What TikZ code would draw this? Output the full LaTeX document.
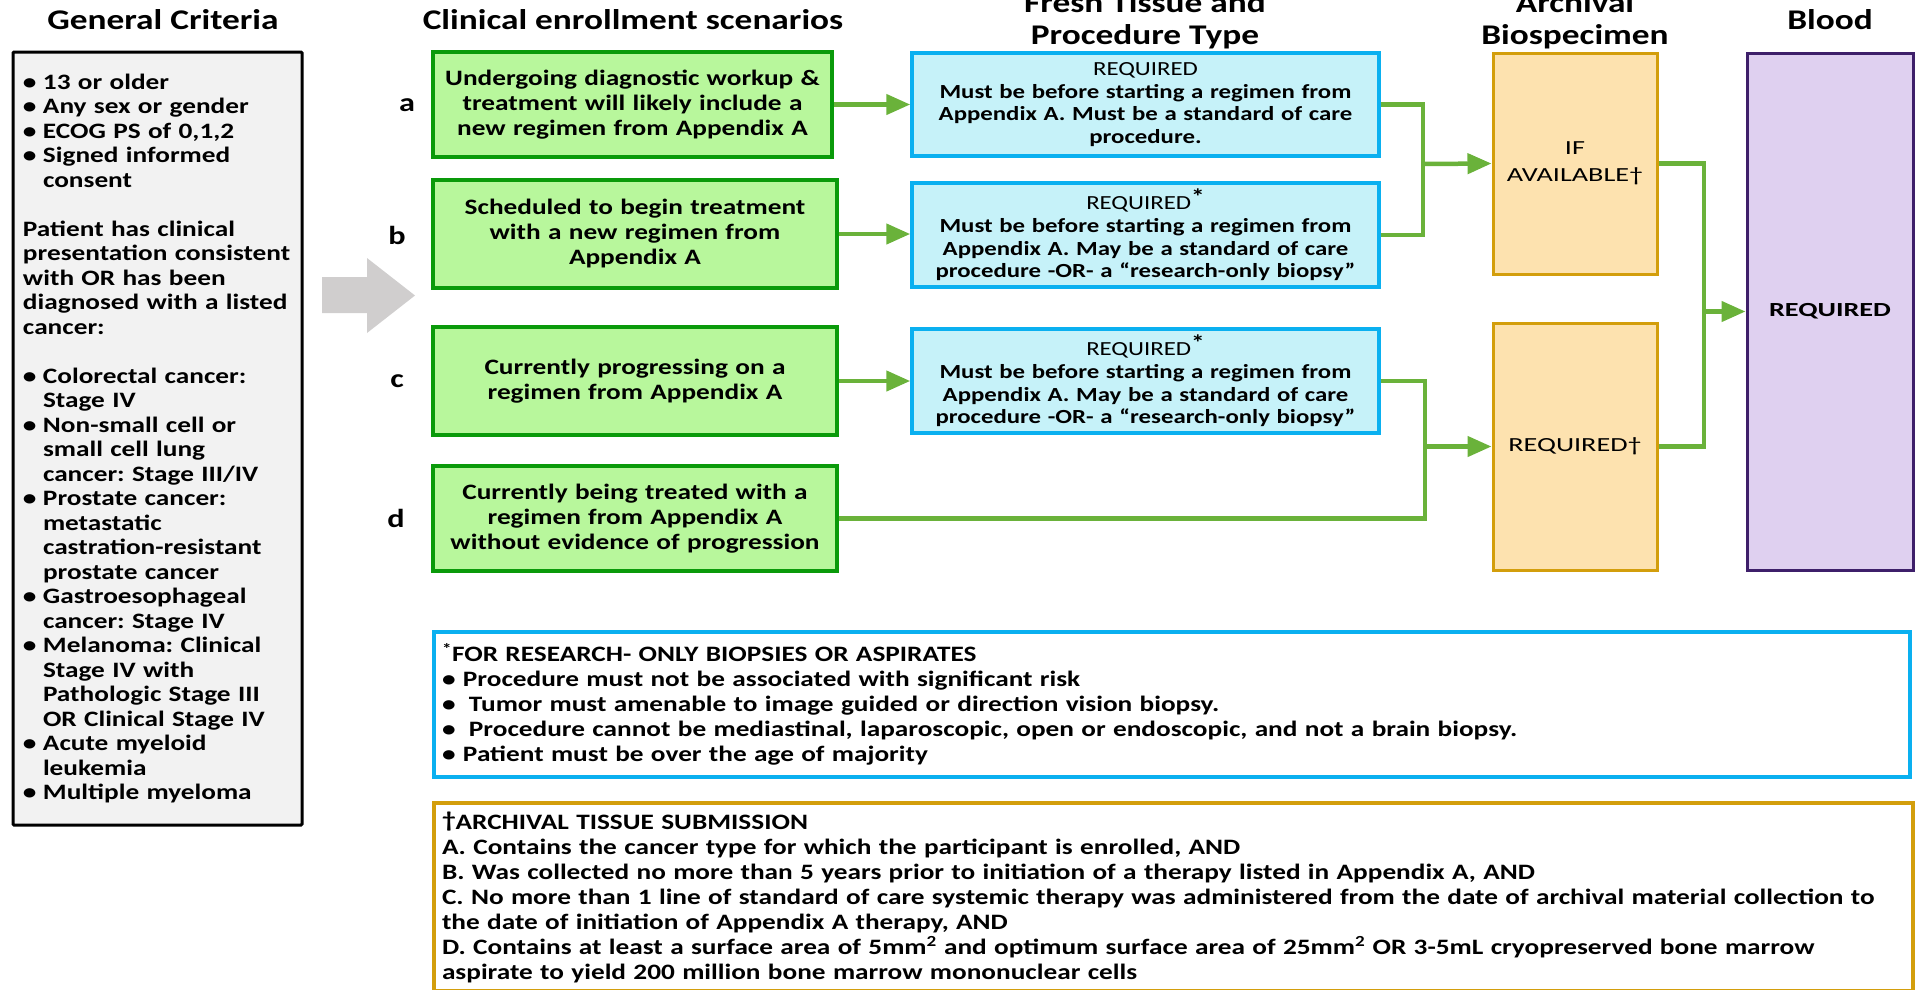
\documentclass[tikz,border=0pt]{standalone}
\usepackage{fontspec}
\setmainfont{Carlito}[FakeStretch=1.24]
\newfontfamily\widefont{Carlito}[FakeStretch=1.41]
\usetikzlibrary{arrows.meta,calc}
\newcommand{\headfont}{\bfseries\fontsize{28.5}{32}\selectfont}
\newcommand{\critfont}{\bfseries\fontsize{22}{24.5}\selectfont}
\newcommand{\scenfont}{\bfseries\fontsize{22}{25}\selectfont}
\newcommand{\tissuefont}{\bfseries\fontsize{20}{22.7}\selectfont}
\newcommand{\notefont}{\bfseries\fontsize{22}{25}\selectfont}
\newcommand{\archfont}{\widefont\fontsize{20}{27}\selectfont}
\newcommand{\tagfont}{\bfseries\fontsize{26}{30}\selectfont}
\newcommand{\critbullet}{\makebox[20pt][l]{\textbullet}}
\newcommand{\critindent}{\hspace*{20pt}}
\newcommand{\notebullet}[1][21pt]{\makebox[#1][l]{\textbullet}}
\newcommand{\bigstar}{\raisebox{5pt}{\fontsize{22}{22}\selectfont\bfseries *}}
\definecolor{critgray}{HTML}{F2F2F2}
\definecolor{pointergray}{HTML}{D0CECE}
\definecolor{scenline}{HTML}{0A9A0A}
\definecolor{scenfill}{HTML}{B8F79C}
\definecolor{tissueline}{HTML}{0AB0F0}
\definecolor{tissuefill}{HTML}{C6F2F9}
\definecolor{flowgreen}{HTML}{6AB23A}
\definecolor{archline}{HTML}{D39E0C}
\definecolor{archfill}{HTML}{FDE2AF}
\definecolor{bloodline}{HTML}{3E1F6A}
\definecolor{bloodfill}{HTML}{DFD0F0}
\tikzset{
  colHead/.style={font=\headfont, align=center, inner sep=0pt},
  rowTag/.style={font=\tagfont, inner sep=0pt},
  critBox/.style={draw=black, line width=3pt, fill=critgray, rounded corners=1pt, inner sep=0pt, text width=269pt, align=left, font=\critfont},
  scenBox/.style={draw=scenline, fill=scenfill, line width=3.5pt, inner sep=0pt, text width=390pt, align=center, font=\scenfont},
  tissueBox/.style={draw=tissueline, fill=tissuefill, line width=3.5pt, inner sep=0pt, text width=455pt, align=center, font=\tissuefont, minimum width=467, minimum height=103},
  archBox/.style={draw=archline, fill=archfill, line width=3pt, inner sep=0pt, align=center, font=\archfont, minimum width=164},
  bloodBox/.style={draw=bloodline, fill=bloodfill, line width=3pt, inner sep=0pt, align=center, font=\archfont\bfseries, minimum width=166, minimum height=517},
  noteBox/.style={line width=4pt, fill=white, inner sep=0pt, align=left, font=\notefont},
  flowLine/.style={draw=flowgreen, line width=4.5pt},
  flowArrow/.style={flowLine, -{Triangle[length=24pt,width=20pt]}}
}

\begin{document}
\frenchspacing
\begin{tikzpicture}[x=1pt,y=-1pt]
  \useasboundingbox (0,0) rectangle (1917,989);
  % column heads
  \node[colHead] (hCrit) at (163,20) {General Criteria};
  \node[colHead] (hScen) at (633,20) {Clinical enrollment scenarios};
  \node[colHead] (hTissue) at (1145,21) {Fresh Tissue and\\Procedure Type};
  \node[colHead] (hArch) at (1575,21) {Archival\\Biospecimen};
  \node[colHead] (hBlood) at (1830,20) {Blood};
  % general criteria
  \node[critBox, minimum width=289, minimum height=773] (crit) at (157.5,438.5) {%
    \critbullet 13 or older\\
    \critbullet Any sex or gender\\
    \critbullet ECOG PS of 0,1,2\\
    \critbullet Signed informed\\
    \critindent consent\\[24.5pt]
    Patient has clinical\\
    presentation consistent\\
    with OR has been\\
    diagnosed with a listed\\
    cancer:\\[24.5pt]
    \critbullet Colorectal cancer:\\
    \critindent Stage IV\\
    \critbullet Non-small cell or\\
    \critindent small cell lung\\
    \critindent cancer: Stage III/IV\\
    \critbullet Prostate cancer:\\
    \critindent metastatic\\
    \critindent castration-resistant\\
    \critindent prostate cancer\\
    \critbullet Gastroesophageal\\
    \critindent cancer: Stage IV\\
    \critbullet Melanoma: Clinical\\
    \critindent Stage IV with\\
    \critindent Pathologic Stage III\\
    \critindent OR Clinical Stage IV\\
    \critbullet Acute myeloid\\
    \critindent leukemia\\
    \critbullet Multiple myeloma};
  \fill[pointergray] (322,277) -- (367,277) -- (367,258) -- (415,295.5) -- (367,333) -- (367,313) -- (322,313) -- cycle;
  % scenarios
  \node[rowTag] (tagA) at (407,105) {a};
  \node[rowTag] (tagB) at (397,235) {b};
  \node[rowTag] (tagC) at (397,381) {c};
  \node[rowTag] (tagD) at (396,518) {d};
  \node[scenBox, minimum width=399, minimum height=105] (scenA) at (632.5,104.5) {Undergoing diagnostic workup \&\\treatment will likely include a\\new regimen from Appendix A};
  \node[scenBox, minimum width=404, minimum height=108] (scenB) at (635,234) {Scheduled to begin treatment\\with a new regimen from\\Appendix A};
  \node[scenBox, minimum width=404, minimum height=108] (scenC) at (635,381) {Currently progressing on a\\regimen from Appendix A};
  \node[scenBox, minimum width=404, minimum height=105] (scenD) at (635,518.5) {Currently being treated with a\\regimen from Appendix A\\without evidence of progression};
  % fresh tissue
  \node[tissueBox] (tissueA) at (1145.5,104.5) {{\mdseries REQUIRED}\\Must be before starting a regimen from\\Appendix A. Must be a standard of care\\procedure.};
  \node[tissueBox, minimum height=104] (tissueB) at (1145.5,235) {{\mdseries REQUIRED}\bigstar\\Must be before starting a regimen from\\Appendix A. May be a standard of care\\procedure -OR- a ``research-only biopsy''};
  \node[tissueBox, minimum height=104] (tissueC) at (1145.5,381) {{\mdseries REQUIRED}\bigstar\\Must be before starting a regimen from\\Appendix A. May be a standard of care\\procedure -OR- a ``research-only biopsy''};
  % archival and blood
  \node[archBox, minimum height=221] (archA) at (1575,163.5) {IF\\AVAILABLE\dag};
  \node[archBox, minimum height=247] (archB) at (1575,446.5) {REQUIRED\dag};
  \node[bloodBox] (blood) at (1830,311.5) {REQUIRED};
  \coordinate (joinA) at (1423,164);
  \coordinate (joinB) at (1425,446.5);
  \coordinate (joinR) at (1704,311.5);
  \draw[flowArrow] (scenA.east) -- (scenA.east -| tissueA.west);
  \draw[flowArrow] (scenB.east) -- (scenB.east -| tissueB.west);
  \draw[flowArrow] (scenC.east) -- (scenC.east -| tissueC.west);
  \draw[flowLine] (tissueA.east) -| (joinA);
  \draw[flowLine] (tissueB.east) -| (joinA);
  \draw[flowArrow] (joinA) -- (archA.west);
  \draw[flowLine] (tissueC.east) -| (joinB);
  \draw[flowLine] (scenD.east) -| (joinB);
  \draw[flowArrow] (joinB) -- (archB.west);
  \draw[flowLine] (archA.east) -| (joinR);
  \draw[flowLine] (archB.east) -| (joinR);
  \draw[flowArrow] (joinR) -- (blood.west);
  % footnotes
  \node[noteBox, draw=tissueline, text width=1460pt, minimum width=1476, minimum height=145] (noteRes) at (1172,704.5) {%
    \textsuperscript{*}FOR RESEARCH- ONLY BIOPSIES OR ASPIRATES\\
    \notebullet Procedure must not be associated with significant risk\\
    \notebullet[27pt]Tumor must amenable to image guided or direction vision biopsy.\\
    \notebullet[27pt]Procedure cannot be mediastinal, laparoscopic, open or endoscopic, and not a brain biopsy.\\
    \notebullet Patient must be over the age of majority};
  \node[noteBox, draw=archline, text width=1463pt, minimum width=1479, minimum height=188] (noteArch) at (1173.5,897) {%
    \raisebox{2pt}{\dag}ARCHIVAL TISSUE SUBMISSION\\
    A. Contains the cancer type for which the participant is enrolled, AND\\
    B. Was collected no more than 5 years prior to initiation of a therapy listed in Appendix A, AND\\
    C. No more than 1 line of standard of care systemic therapy was administered from the date of archival material collection to\\
    the date of initiation of Appendix A therapy, AND\\
    D. Contains at least a surface area of 5mm\textsuperscript{2} and optimum surface area of 25mm\textsuperscript{2} OR 3-5mL cryopreserved bone marrow\\
    aspirate to yield 200 million bone marrow mononuclear cells};
\end{tikzpicture}
\end{document}
